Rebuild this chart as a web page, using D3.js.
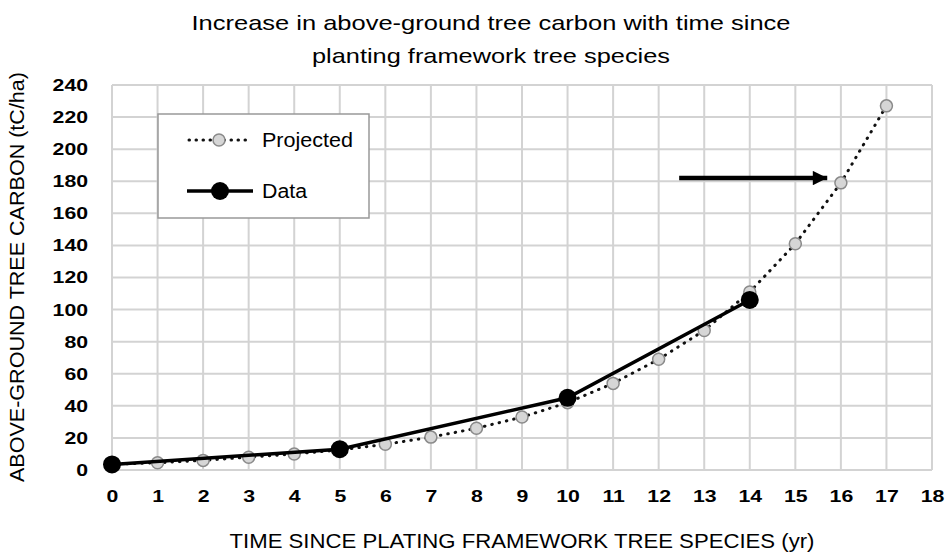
<!DOCTYPE html>
<html><head><meta charset="utf-8">
<script src="https://cdn.jsdelivr.net/npm/d3@7"></script>
<style>body{margin:0;background:#fff}svg{display:block;font-family:"Liberation Sans",Arial,sans-serif}</style>
</head><body><svg id="c" width="948" height="556"></svg>
<script>
const projYears = [0,1,2,3,4,5,6,7,8,9,10,11,12,13,14,15,16,17];
const projValues = [3.5,4.5,6,8,10,12.5,16,20.5,26,33,42,54,69,87,111,141,179,227];
const dataYears = [0,5,10,14];
const dataValues = [3.5,13,45,106];
const xTicks = d3.range(0,19);
const yTicks = d3.range(0,241,20);
const title = ["Increase in above-ground tree carbon with time since","planting framework tree species"];
const xTitle = "TIME SINCE PLATING FRAMEWORK TREE SPECIES (yr)";
const yTitle = "ABOVE-GROUND TREE CARBON (tC/ha)";
const legendLabels = ["Projected","Data"];

const svg = d3.select("#c");
const x = d3.scaleLinear().domain([0,18]).range([112,932]);
const y = d3.scaleLinear().domain([0,240]).range([470,85]);
const SX = 1.25;

// grid
svg.append("g").selectAll("line").data(xTicks).join("line")
  .attr("x1",d=>x(d)).attr("x2",d=>x(d)).attr("y1",y(0)).attr("y2",y(240))
  .attr("stroke","#d3d3d3").attr("stroke-width",2);
svg.append("g").selectAll("line").data(yTicks).join("line")
  .attr("x1",x(0)).attr("x2",x(18)).attr("y1",d=>y(d)).attr("y2",d=>y(d))
  .attr("stroke","#d3d3d3").attr("stroke-width",2);

// axes labels
const xa = svg.append("g").attr("transform",`translate(0,${y(0)})`)
  .call(d3.axisBottom(x).tickValues(xTicks).tickSize(0).tickPadding(20));
xa.select(".domain").remove();
xa.selectAll("text").attr("font-size",17).attr("font-weight","bold").attr("fill","#000")
  .attr("font-family","Liberation Sans, Arial, sans-serif").attr("transform",`scale(${SX},1)`);
const ya = svg.append("g").attr("transform",`translate(${x(0)},0)`)
  .call(d3.axisLeft(y).tickValues(yTicks).tickSize(0).tickPadding(22));
ya.select(".domain").remove();
ya.selectAll("text").attr("font-size",17).attr("font-weight","bold").attr("fill","#000")
  .attr("font-family","Liberation Sans, Arial, sans-serif")
  .attr("x",-24/SX).attr("transform",`scale(${SX},1)`);

// titles
const tW = [599,358];
svg.append("g").selectAll("text").data(title).join("text")
  .attr("x",491).attr("y",(d,i)=>30+i*32.5).attr("text-anchor","middle")
  .attr("font-size",21).attr("textLength",(d,i)=>tW[i]).attr("lengthAdjust","spacingAndGlyphs").text(d=>d);
svg.append("text").attr("x",522).attr("y",548).attr("text-anchor","middle")
  .attr("font-size",20.5).attr("textLength",585).attr("lengthAdjust","spacingAndGlyphs").text(xTitle);
svg.append("text").attr("transform","translate(24,277) rotate(-90)").attr("text-anchor","middle")
  .attr("font-size",20).attr("textLength",410).attr("lengthAdjust","spacingAndGlyphs").text(yTitle);

// projected
const proj = projYears.map((d,i)=>[d,projValues[i]]);
const dat = dataYears.map((d,i)=>[d,dataValues[i]]);
const line = d3.line().x(d=>x(d[0])).y(d=>y(d[1]));
svg.append("path").attr("d",line(proj)).attr("fill","none").attr("stroke","#111")
  .attr("stroke-width",3).attr("stroke-dasharray","0.5 7").attr("stroke-linecap","round");
svg.append("g").selectAll("circle").data(proj).join("circle")
  .attr("cx",d=>x(d[0])).attr("cy",d=>y(d[1])).attr("r",6)
  .attr("fill","#d6d6d6").attr("stroke","#8a8a8a").attr("stroke-width",1.5);
// data
svg.append("path").attr("d",line(dat)).attr("fill","none").attr("stroke","#000").attr("stroke-width",3.5);
svg.append("g").selectAll("circle").data(dat).join("circle")
  .attr("cx",d=>x(d[0])).attr("cy",d=>y(d[1])).attr("r",9).attr("fill","#000");

// arrow
svg.append("defs").append("marker").attr("id","ah").attr("viewBox","0 0 10 10")
  .attr("refX",10).attr("refY",5).attr("markerWidth",3.6).attr("markerHeight",3.2)
  .attr("markerUnits","strokeWidth").attr("orient","auto")
  .append("path").attr("d","M0,0L10,5L0,10Z").attr("fill","#000");
svg.append("line").attr("x1",x(12.45)).attr("x2",x(15.7)).attr("y1",y(182)).attr("y2",y(182))
  .attr("stroke","#000").attr("stroke-width",4.5).attr("marker-end","url(#ah)");

// legend
const lg = svg.append("g");
lg.append("rect").attr("x",158).attr("y",114).attr("width",211).attr("height",104)
  .attr("fill","#fff").attr("stroke","#999").attr("stroke-width",1.5);
lg.append("line").attr("x1",189).attr("x2",250).attr("y1",140).attr("y2",140)
  .attr("stroke","#111").attr("stroke-width",3).attr("stroke-dasharray","0.5 6.5").attr("stroke-linecap","round");
lg.append("circle").attr("cx",219).attr("cy",140).attr("r",6).attr("fill","#d6d6d6").attr("stroke","#8a8a8a").attr("stroke-width",1.5);
lg.append("line").attr("x1",187).attr("x2",253).attr("y1",191).attr("y2",191).attr("stroke","#000").attr("stroke-width",3.5);
lg.append("circle").attr("cx",220).attr("cy",191).attr("r",9).attr("fill","#000");
const lgW = [91,45];
lg.selectAll("text").data(legendLabels).join("text").attr("x",262).attr("y",(d,i)=>147+i*51)
  .attr("font-size",19.5).attr("textLength",(d,i)=>lgW[i]).attr("lengthAdjust","spacingAndGlyphs").text(d=>d);
</script></body></html>
